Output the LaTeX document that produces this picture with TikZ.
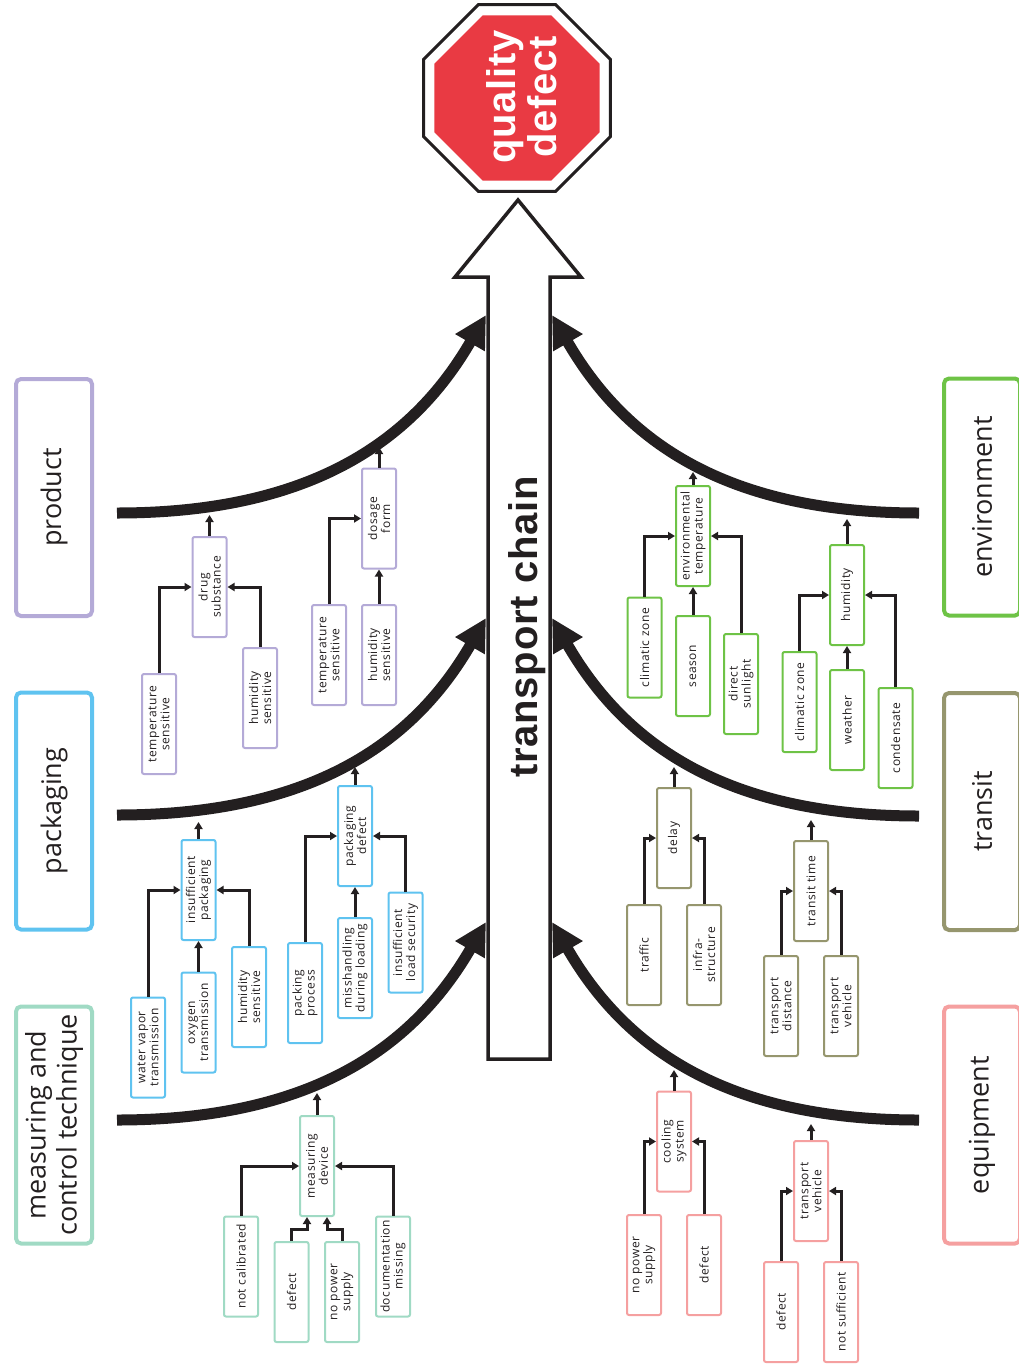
\documentclass[tikz,border=0pt]{standalone}
\usepackage{fontspec}
\setmainfont{Open Sans}
\newfontfamily\boxfont[LetterSpace=5]{Open Sans}
\newfontfamily\headfont[LetterSpace=2]{Liberation Sans}
\usetikzlibrary{arrows.meta,shapes.geometric}

\newlength{\du}
\setlength{\du}{1pt}

\definecolor{ink}{RGB}{35,31,32}
\definecolor{stopred}{RGB}{233,58,67}
\definecolor{prodcol}{RGB}{180,170,215}
\definecolor{packcol}{RGB}{95,195,240}
\definecolor{meascol}{RGB}{160,218,196}
\definecolor{envcol}{RGB}{110,195,70}
\definecolor{trancol}{RGB}{150,150,110}
\definecolor{equipcol}{RGB}{245,160,160}

% arrow tips are sized in pt (1pt = 1\du here)
\tikzset{
  cause/.style={rotate=90, draw, fill=white, line width=2\du, rounded corners=2\du,
    minimum width=100\du, minimum height=34\du, inner sep=1\du, align=center,
    text=ink, font=\boxfont\fontsize{12}{13}\selectfont},
  catbox/.style={rotate=90, draw, line width=4\du, rounded corners=5\du,
    minimum width=237\du, minimum height=76\du, align=center, text=ink,
    font=\fontsize{27}{31}\selectfont},
  headline/.style={rotate=90, inner sep=0pt, align=center, text=ink,
    font=\headfont\bfseries\fontsize{40}{41}\selectfont},
  octagon/.style={regular polygon, regular polygon sides=8, inner sep=0pt},
  link/.style={draw=ink, line width=3\du, -{Triangle[length=7pt,width=8pt]}},
  bone/.style={draw=ink, line width=11\du, -{Triangle[length=32pt,width=32pt]}}
}

\begin{document}
\begin{tikzpicture}
\pgftransformyscale{-1.000000}
\useasboundingbox (0\du,0\du) rectangle (1019\du,1371\du);
% stop sign
\node[octagon, draw=ink, fill=white, line width=3\du, minimum size=202\du] (ring) at (517\du,98\du) {};
\node[octagon, fill=stopred, minimum size=179\du] (stop) at (517\du,98\du) {};
\node[headline, text=white] (qd) at (521.5\du,97\du) {quality\\defect};
% main arrow
\draw[draw=ink, line width=3.5\du, fill=white] (488\du,1059\du)--(488\du,277\du)--(455\du,277\du)--(518\du,200\du)--(581\du,277\du)--(550\du,277\du)--(550\du,1059\du)--cycle;
\node[headline, anchor=base] (chain) at (537\du,627\du) {transport chain};
% bones
\coordinate (prod-s) at (117\du,513\du);
\coordinate (prod-e) at (486\du,315\du);
\coordinate (pack-s) at (117\du,815\du);
\coordinate (pack-e) at (486\du,618\du);
\coordinate (meas-s) at (117\du,1120\du);
\coordinate (meas-e) at (486\du,922\du);
\coordinate (env-s) at (919\du,513\du);
\coordinate (env-e) at (552\du,315\du);
\coordinate (tran-s) at (919\du,816\du);
\coordinate (tran-e) at (552\du,618\du);
\coordinate (equip-s) at (919\du,1120\du);
\coordinate (equip-e) at (552\du,922\du);
\draw[bone] (prod-s) .. controls +(200\du,0\du) and +(-70\du,121\du) .. (prod-e);
\draw[bone] (pack-s) .. controls +(200\du,0\du) and +(-70\du,121\du) .. (pack-e);
\draw[bone] (meas-s) .. controls +(200\du,0\du) and +(-70\du,121\du) .. (meas-e);
\draw[bone] (env-s) .. controls +(-200\du,0\du) and +(70\du,121\du) .. (env-e);
\draw[bone] (tran-s) .. controls +(-200\du,0\du) and +(70\du,121\du) .. (tran-e);
\draw[bone] (equip-s) .. controls +(-200\du,0\du) and +(70\du,121\du) .. (equip-e);
% categories
\node[catbox, draw=prodcol] (product) at (54\du,497.5\du) {product};
\node[catbox, draw=packcol] (packaging) at (54\du,811\du) {packaging};
\node[catbox, draw=meascol] (measuring) at (54\du,1125\du) {measuring and\\control technique};
\node[catbox, draw=envcol] (environment) at (982\du,497\du) {environment};
\node[catbox, draw=trancol] (transit) at (982\du,811.5\du) {transit};
\node[catbox, draw=equipcol] (equipment) at (982\du,1125\du) {equipment};
% product
\node[cause, draw=prodcol] (ds) at (209.5\du,587\du) {drug\\substance};
\node[cause, draw=prodcol] (pts) at (159\du,724\du) {temperature\\sensitive};
\node[cause, draw=prodcol] (phs) at (260\du,698\du) {humidity\\sensitive};
\node[cause, draw=prodcol] (df) at (379\du,518.5\du) {dosage\\form};
\node[cause, draw=prodcol] (pts2) at (329\du,655\du) {temperature\\sensitive};
\node[cause, draw=prodcol] (phs2) at (379\du,655\du) {humidity\\sensitive};
% packaging
\node[cause, draw=packcol] (ip) at (198.5\du,890\du) {insufficient\\packaging};
\node[cause, draw=packcol] (wvt) at (148\du,1047.5\du) {water vapor\\transmission};
\node[cause, draw=packcol] (ot) at (198.5\du,1022.5\du) {oxygen\\transmission};
\node[cause, draw=packcol] (khs) at (249\du,997\du) {humidity\\sensitive};
\node[cause, draw=packcol] (pd) at (355\du,836\du) {packaging\\defect};
\node[cause, draw=packcol] (pp) at (305\du,993\du) {packing\\process};
\node[cause, draw=packcol] (mdl) at (355\du,968\du) {misshandling\\during loading};
\node[cause, draw=packcol] (ils) at (405.5\du,942.5\du) {insufficient\\load security};
% measuring and control
\node[cause, draw=meascol] (md) at (317\du,1166\du) {measuring\\device};
\node[cause, draw=meascol] (nc) at (241\du,1266.5\du) {not calibrated};
\node[cause, draw=meascol] (mdef) at (291.5\du,1292\du) {defect};
\node[cause, draw=meascol] (mnps) at (342\du,1292\du) {no power\\supply};
\node[cause, draw=meascol] (dm) at (393\du,1266.5\du) {documentation\\missing};
% environment
\node[cause, draw=envcol] (et) at (693\du,536\du) {environmental\\temperature};
\node[cause, draw=envcol] (cz1) at (644.5\du,647.5\du) {climatic zone};
\node[cause, draw=envcol] (sea) at (693\du,666\du) {season};
\node[cause, draw=envcol] (dsl) at (741\du,684\du) {direct\\sunlight};
\node[cause, draw=envcol] (hum) at (847\du,595\du) {humidity};
\node[cause, draw=envcol] (cz2) at (799.5\du,702\du) {climatic zone};
\node[cause, draw=envcol] (wea) at (847\du,720\du) {weather};
\node[cause, draw=envcol] (con) at (895.5\du,738\du) {condensate};
% transit
\node[cause, draw=trancol] (del) at (674\du,838\du) {delay};
\node[cause, draw=trancol] (tra) at (644\du,955\du) {traffic};
\node[cause, draw=trancol] (inf) at (704\du,955\du) {infra-\\structure};
\node[cause, draw=trancol] (tt) at (811\du,891\du) {transit time};
\node[cause, draw=trancol] (tdi) at (781\du,1006\du) {transport\\distance};
\node[cause, draw=trancol] (tve) at (841\du,1006\du) {transport\\vehicle};
% equipment
\node[cause, draw=equipcol] (cs) at (674\du,1141.5\du) {cooling\\system};
\node[cause, draw=equipcol] (enps) at (644\du,1265\du) {no power\\supply};
\node[cause, draw=equipcol] (edef) at (704\du,1265\du) {defect};
\node[cause, draw=equipcol] (etv) at (811\du,1191\du) {transport\\vehicle};
\node[cause, draw=equipcol] (edef2) at (781\du,1312\du) {defect};
\node[cause, draw=equipcol] (ns) at (841\du,1312\du) {not sufficient};
% where the arrows meet the bones
\coordinate (ds-tip) at (209.5\du,515\du);
\coordinate (df-tip) at (379\du,447\du);
\coordinate (ip-tip) at (198.5\du,822\du);
\coordinate (pd-tip) at (355\du,767\du);
\coordinate (md-tip) at (317\du,1093\du);
\coordinate (et-tip) at (693\du,472\du);
\coordinate (hum-tip) at (847\du,519\du);
\coordinate (del-tip) at (674\du,767\du);
\coordinate (tt-tip) at (811\du,820\du);
\coordinate (cs-tip) at (674\du,1070\du);
\coordinate (etv-tip) at (811\du,1124\du);
% links
\draw[link] (pts.east) |- (ds.north);
\draw[link] (phs.east) |- (ds.south);
\draw[link] (ds.east) -- (ds-tip);
\draw[link] (pts2.east) |- (df.north);
\draw[link] (phs2.east) -- (df.west);
\draw[link] (df.east) -- (df-tip);
\draw[link] (wvt.east) |- (ip.north);
\draw[link] (ot.east) -- (ip.west);
\draw[link] (khs.east) |- (ip.south);
\draw[link] (ip.east) -- (ip-tip);
\draw[link] (pp.east) |- (pd.north);
\draw[link] (mdl.east) -- (pd.west);
\draw[link] (ils.east) |- (pd.south);
\draw[link] (pd.east) -- (pd-tip);
\draw[link] (nc.east) |- (md.north);
\draw[link] (mdef.east) -- ++(0\du,-12\du) -| ([xshift=-10\du]md.west);
\draw[link] (mnps.east) -- ++(0\du,-12\du) -| ([xshift=10\du]md.west);
\draw[link] (dm.east) |- (md.south);
\draw[link] (md.east) -- (md-tip);
\draw[link] (cz1.east) |- (et.north);
\draw[link] (sea.east) -- (et.west);
\draw[link] (dsl.east) |- (et.south);
\draw[link] (et.east) -- (et-tip);
\draw[link] (cz2.east) |- (hum.north);
\draw[link] (wea.east) -- (hum.west);
\draw[link] (con.east) |- (hum.south);
\draw[link] (hum.east) -- (hum-tip);
\draw[link] (tra.east) |- (del.north);
\draw[link] (inf.east) |- (del.south);
\draw[link] (del.east) -- (del-tip);
\draw[link] (tdi.east) |- (tt.north);
\draw[link] (tve.east) |- (tt.south);
\draw[link] (tt.east) -- (tt-tip);
\draw[link] (enps.east) |- (cs.north);
\draw[link] (edef.east) |- (cs.south);
\draw[link] (cs.east) -- (cs-tip);
\draw[link] (edef2.east) |- (etv.north);
\draw[link] (ns.east) |- (etv.south);
\draw[link] (etv.east) -- (etv-tip);
\end{tikzpicture}
\end{document}
